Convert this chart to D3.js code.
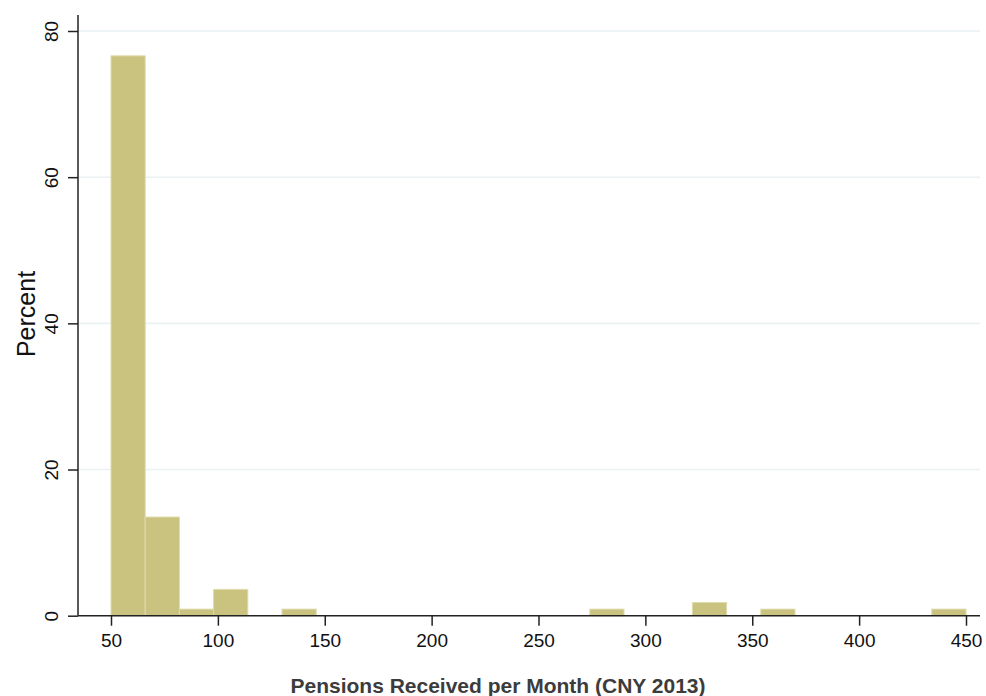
<!DOCTYPE html>
<html>
<head>
<meta charset="utf-8">
<script src="https://cdn.jsdelivr.net/npm/d3@7"></script>
<style>
  html, body { margin: 0; padding: 0; background: #fff; }
  svg { display: block; }
</style>
</head>
<body>
<svg id="chart" width="986" height="696"></svg>
<script>
// Histogram bins (lower edge, CNY) and percent of observations
const binStarts = [50, 66, 82, 98, 130, 274, 322, 354, 434];
const percents  = [76.6, 13.5, 0.9, 3.6, 0.9, 0.9, 1.8, 0.9, 0.9];
const binWidth = 16;
const xTicks = [50, 100, 150, 200, 250, 300, 350, 400, 450];
const yTicks = [0, 20, 40, 60, 80];
const xTitle = "Pensions Received per Month (CNY 2013)";
const yTitle = "Percent";

const svg = d3.select("#chart");
const x = d3.scaleLinear().domain([50, 450]).range([111, 966]);
const y = d3.scaleLinear().domain([0, 80]).range([615.7, 31]);
const plotLeft = 78, plotRight = 980, plotTop = 15, plotBottom = 615.7;
const font = "'Liberation Sans', Arial, Helvetica, sans-serif";

// gridlines
svg.append("g").selectAll("line")
  .data(yTicks.filter(d => d > 0))
  .join("line")
  .attr("x1", plotLeft).attr("x2", plotRight)
  .attr("y1", d => y(d)).attr("y2", d => y(d))
  .attr("stroke", "#eaf2f3").attr("stroke-width", 1.6);

// bars
const data = binStarts.map((b, i) => ({ b, p: percents[i] }));
svg.append("g").selectAll("rect")
  .data(data)
  .join("rect")
  .attr("x", d => x(d.b))
  .attr("width", d => x(d.b + binWidth) - x(d.b))
  .attr("y", d => y(d.p))
  .attr("height", d => y(0) - y(d.p))
  .attr("fill", "#c9c37f")
  .attr("stroke", "#dfdbab")
  .attr("stroke-width", 1);

// x axis
const xAxis = d3.axisBottom(x).tickValues(xTicks).tickSize(10).tickPadding(8).tickFormat(d3.format("d"));
const gx = svg.append("g").attr("transform", `translate(0,${plotBottom})`).call(xAxis);
gx.select(".domain").attr("d", `M${plotLeft},0H${plotRight}`).attr("stroke", "#222").attr("stroke-width", 1.5);
gx.selectAll(".tick line").attr("stroke", "#222").attr("stroke-width", 1.5);
gx.selectAll(".tick text").attr("font-family", font).attr("font-size", 19).attr("fill", "#111");

// y axis
const yAxis = d3.axisLeft(y).tickValues(yTicks).tickSize(10).tickPadding(0).tickFormat(d3.format("d"));
const gy = svg.append("g").attr("transform", `translate(${plotLeft},0)`).call(yAxis);
gy.select(".domain").attr("d", `M0,${plotTop}V${plotBottom}`).attr("stroke", "#222").attr("stroke-width", 1.5);
gy.selectAll(".tick line").attr("stroke", "#222").attr("stroke-width", 1.5);
gy.selectAll(".tick text")
  .attr("font-family", font).attr("font-size", 19).attr("fill", "#111")
  .attr("x", null).attr("dy", null)
  .attr("text-anchor", "middle")
  .attr("transform", "translate(-20,0) rotate(-90)");

// titles
svg.append("text")
  .attr("x", 498).attr("y", 693)
  .attr("text-anchor", "middle")
  .attr("font-family", font).attr("font-size", 21).attr("font-weight", "bold")
  .attr("fill", "#3c3c3c")
  .text(xTitle);

svg.append("text")
  .attr("transform", "translate(35,314) rotate(-90)")
  .attr("text-anchor", "middle")
  .attr("font-family", font).attr("font-size", 25)
  .attr("fill", "#111")
  .text(yTitle);
</script>
</body>
</html>
